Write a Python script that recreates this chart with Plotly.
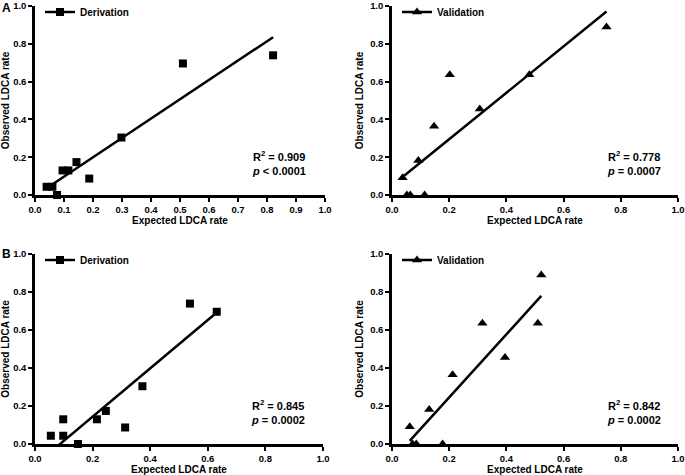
import numpy as np
import plotly.graph_objects as go

# ---- data ----
deriv_obs = [0.0435, 0.0435, 0.0, 0.130, 0.130, 0.174, 0.087, 0.304, 0.696, 0.739]
valid_obs = [0.091, 0.0, 0.0, 0.182, 0.0, 0.364, 0.636, 0.455, 0.636, 0.889]

a_deriv_exp = [0.040, 0.060, 0.076, 0.095, 0.115, 0.143, 0.187, 0.298, 0.510, 0.821]
a_valid_exp = [0.037, 0.052, 0.064, 0.092, 0.114, 0.147, 0.202, 0.307, 0.480, 0.750]

b_deriv_x = [0.055, 0.098, 0.098, 0.149, 0.215, 0.246, 0.313, 0.373, 0.538, 0.631]
b_deriv_y = [0.0435, 0.130, 0.0435, 0.0, 0.130, 0.174, 0.087, 0.304, 0.739, 0.696]
b_valid_x = [0.062, 0.072, 0.085, 0.130, 0.177, 0.212, 0.316, 0.395, 0.510, 0.522]

stats_text = ["R<sup>2</sup> = 0.909<br><i>p</i> < 0.0001",
              "R<sup>2</sup> = 0.778<br><i>p</i> = 0.0007",
              "R<sup>2</sup> = 0.845<br><i>p</i> = 0.0002",
              "R<sup>2</sup> = 0.842<br><i>p</i> = 0.0002"]
legend_names = ["Derivation", "Validation", "Derivation", "Validation"]
panel_letters = ["A", "B"]
y_ticks = [0.0, 0.2, 0.4, 0.6, 0.8, 1.0]
x_ticks_fine = [round(0.1 * i, 1) for i in range(11)]
x_ticks_coarse = [0.0, 0.2, 0.4, 0.6, 0.8, 1.0]

panels = [
    (a_deriv_exp, deriv_obs, "square", x_ticks_fine),
    (a_valid_exp, valid_obs, "triangle-up", x_ticks_coarse),
    (b_deriv_x, b_deriv_y, "square", x_ticks_coarse),
    (b_valid_x, valid_obs, "triangle-up", x_ticks_coarse),
]

W, H = 685, 475
FONT = "Liberation Sans, Arial, sans-serif"
# pixel boxes of the plotting areas: (left, right, top, bottom)
boxes = [(35, 325, 6, 195), (392, 678, 6, 195), (35, 323, 254, 444), (392, 678, 254, 444)]

fig = go.Figure()
layout = dict(
    width=W, height=H, margin=dict(l=0, r=0, t=0, b=0, autoexpand=False),
    paper_bgcolor="white", plot_bgcolor="white",
    font=dict(family=FONT, color="black", size=10, weight="bold"),
    showlegend=True, annotations=[],
)

for i, (xs, ys, sym, xt) in enumerate(panels):
    n = i + 1
    xa = "x" if n == 1 else f"x{n}"
    ya = "y" if n == 1 else f"y{n}"
    lg = "legend" if n == 1 else f"legend{n}"
    msize = 8 if sym == "square" else 9
    # regression line over the x range of the data
    slope, icpt = np.polyfit(xs, ys, 1)
    lx = np.array([min(xs), max(xs)])
    fig.add_trace(go.Scatter(x=lx, y=slope * lx + icpt, mode="lines",
                             line=dict(color="black", width=2.5),
                             xaxis=xa, yaxis=ya, showlegend=False, hoverinfo="skip"))
    fig.add_trace(go.Scatter(x=xs, y=ys, mode="markers",
                             marker=dict(symbol=sym, size=msize, color="black"),
                             cliponaxis=False, xaxis=xa, yaxis=ya, showlegend=False))
    # legend entry (line + marker like the original key)
    fig.add_trace(go.Scatter(x=[None], y=[None], mode="lines+markers", name=legend_names[i],
                             marker=dict(symbol=sym, size=msize, color="black"),
                             line=dict(color="black", width=2.5),
                             xaxis=xa, yaxis=ya, legend=lg, showlegend=True))

    l, r, t, b = boxes[i]
    axis_common = dict(showline=True, linecolor="black", linewidth=2.5, ticks="outside",
                       ticklen=4, tickwidth=2, tickcolor="black", showgrid=False,
                       zeroline=False, range=[0, 1], tickformat=".1f", automargin=False,
                       ticklabeloverflow="allow",
                       tickfont=dict(size=9.5, family=FONT, weight="bold"),
                       title_font=dict(size=10, family=FONT, weight="bold"))
    xkey = "xaxis" if n == 1 else f"xaxis{n}"
    ykey = "yaxis" if n == 1 else f"yaxis{n}"
    layout[xkey] = dict(axis_common, domain=[l / W, r / W], anchor=ya,
                        tickvals=xt, title=dict(text="Expected LDCA rate", standoff=3))
    layout[ykey] = dict(axis_common, domain=[1 - b / H, 1 - t / H], anchor=xa,
                        tickvals=y_ticks, title=dict(text="Observed LDCA rate", standoff=5))
    layout[lg] = dict(x=(l + 5) / W, y=1 - (t + 6) / H, xanchor="left", yanchor="middle",
                      bgcolor="rgba(0,0,0,0)", font=dict(size=10, family=FONT, weight="bold"),
                      itemwidth=30)
    layout["annotations"].append(dict(
        text=stats_text[i], xref=xa, yref=ya, x=0.743, y=0.171,
        xanchor="left", yanchor="middle", align="left", showarrow=False,
        font=dict(size=11, family=FONT, weight="bold")))

for k, letter in enumerate(panel_letters):
    layout["annotations"].append(dict(
        text=letter, xref="paper", yref="paper", x=6 / W, y=1 - (8 + k * 246) / H,
        xanchor="center", yanchor="middle", showarrow=False,
        font=dict(size=12, family=FONT, weight="bold")))

fig.update_layout(**layout)
fig.write_html("out.html", config={"displayModeBar": False},
               post_script="document.body.style.margin='0';document.body.style.overflow='hidden';")
